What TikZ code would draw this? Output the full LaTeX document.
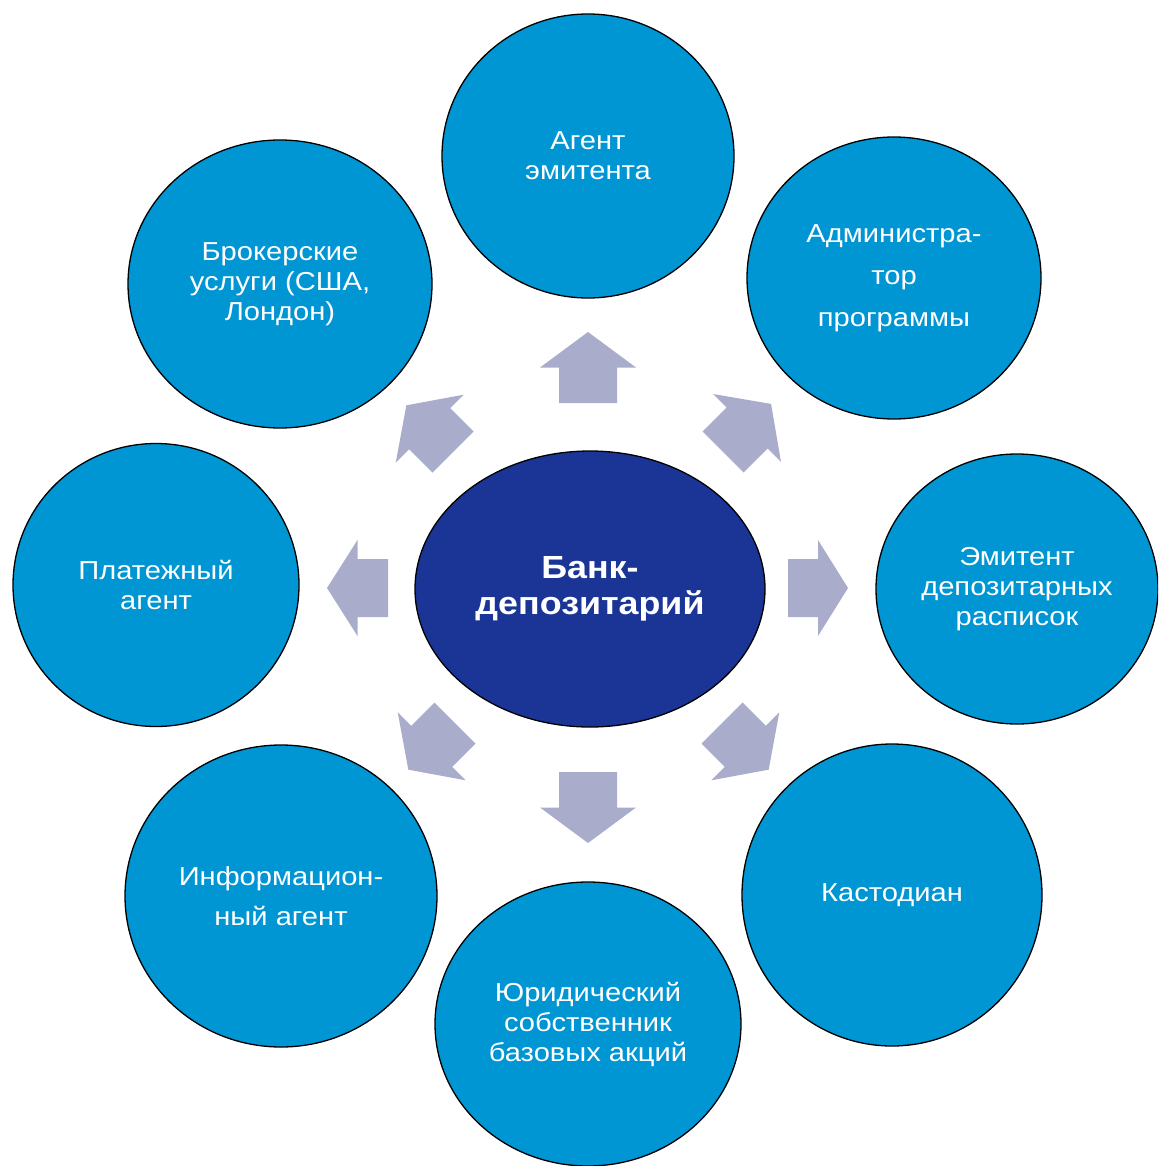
\documentclass[tikz,border=0pt]{standalone}
\usepackage{fontspec}
\setmainfont{Liberation Sans}[FakeStretch=1.12]
\usetikzlibrary{shapes.geometric}

\definecolor{memberblue}{RGB}{0,149,211}
\definecolor{bankblue}{RGB}{27,53,150}
\definecolor{arrowgray}{RGB}{169,173,203}

\tikzset{
  member/.style={ellipse, draw=black, line width=1.3pt, fill=memberblue,
    text=white, inner sep=0pt, align=center, font=\fontsize{26}{30}\selectfont},
  bank/.style={ellipse, draw=black, line width=1.3pt, fill=bankblue,
    text=white, inner sep=0pt, align=center, font=\bfseries\fontsize{32}{36}\selectfont},
  pics/blockarrow/.style={code={
    \fill[arrowgray] (0,-29) -- ({#1/2},-29) -- ({#1/2},-48) -- (#1,0)
      -- ({#1/2},48) -- ({#1/2},29) -- (0,29) -- cycle;}}
}

\begin{document}
\begin{tikzpicture}[x=1pt, y=-1pt]
\useasboundingbox (0,0) rectangle (1158,1166);
\clip (0,0) rectangle (1158,1166);

% center
\node[bank, minimum width=350, minimum height=276] (bank) at (590,589) {Банк-\\депозитарий};

% ring
\node[member, minimum width=292, minimum height=284] (agent) at (588,156) {Агент\\эмитента};
\node[member, minimum width=294, minimum height=282, font=\fontsize{26}{42}\selectfont] (admin) at (894,278) {Администра-\\тор\\программы};
\node[member, minimum width=282, minimum height=270] (issuer) at (1017,589) {Эмитент\\депозитарных\\расписок};
\node[member, minimum width=300, minimum height=302] (custodian) at (892,895) {Кастодиан};
\node[member, minimum width=306, minimum height=284] (owner) at (588,1024) {Юридический\\собственник\\базовых акций};
\node[member, minimum width=312, minimum height=302, font=\fontsize{26}{40}\selectfont] (info) at (281,896) {Информацион-\\ный агент};
\node[member, minimum width=286, minimum height=283] (payer) at (156,585) {Платежный\\агент};
\node[member, minimum width=304, minimum height=288] (broker) at (280,284) {Брокерские\\услуги (США,\\Лондон)};

% arrows
\pic[rotate=90]   at (588,403) {blockarrow=71};
\pic[rotate=45]   at (723,452) {blockarrow=68};
\pic[rotate=0]    at (788,588) {blockarrow=60};
\pic[rotate=-45]  at (722,723) {blockarrow=66};
\pic[rotate=-90]  at (588,772) {blockarrow=71};
\pic[rotate=-135] at (455,723) {blockarrow=66};
\pic[rotate=180]  at (388,588) {blockarrow=61};
\pic[rotate=135]  at (453,452) {blockarrow=66};
\end{tikzpicture}
\end{document}
